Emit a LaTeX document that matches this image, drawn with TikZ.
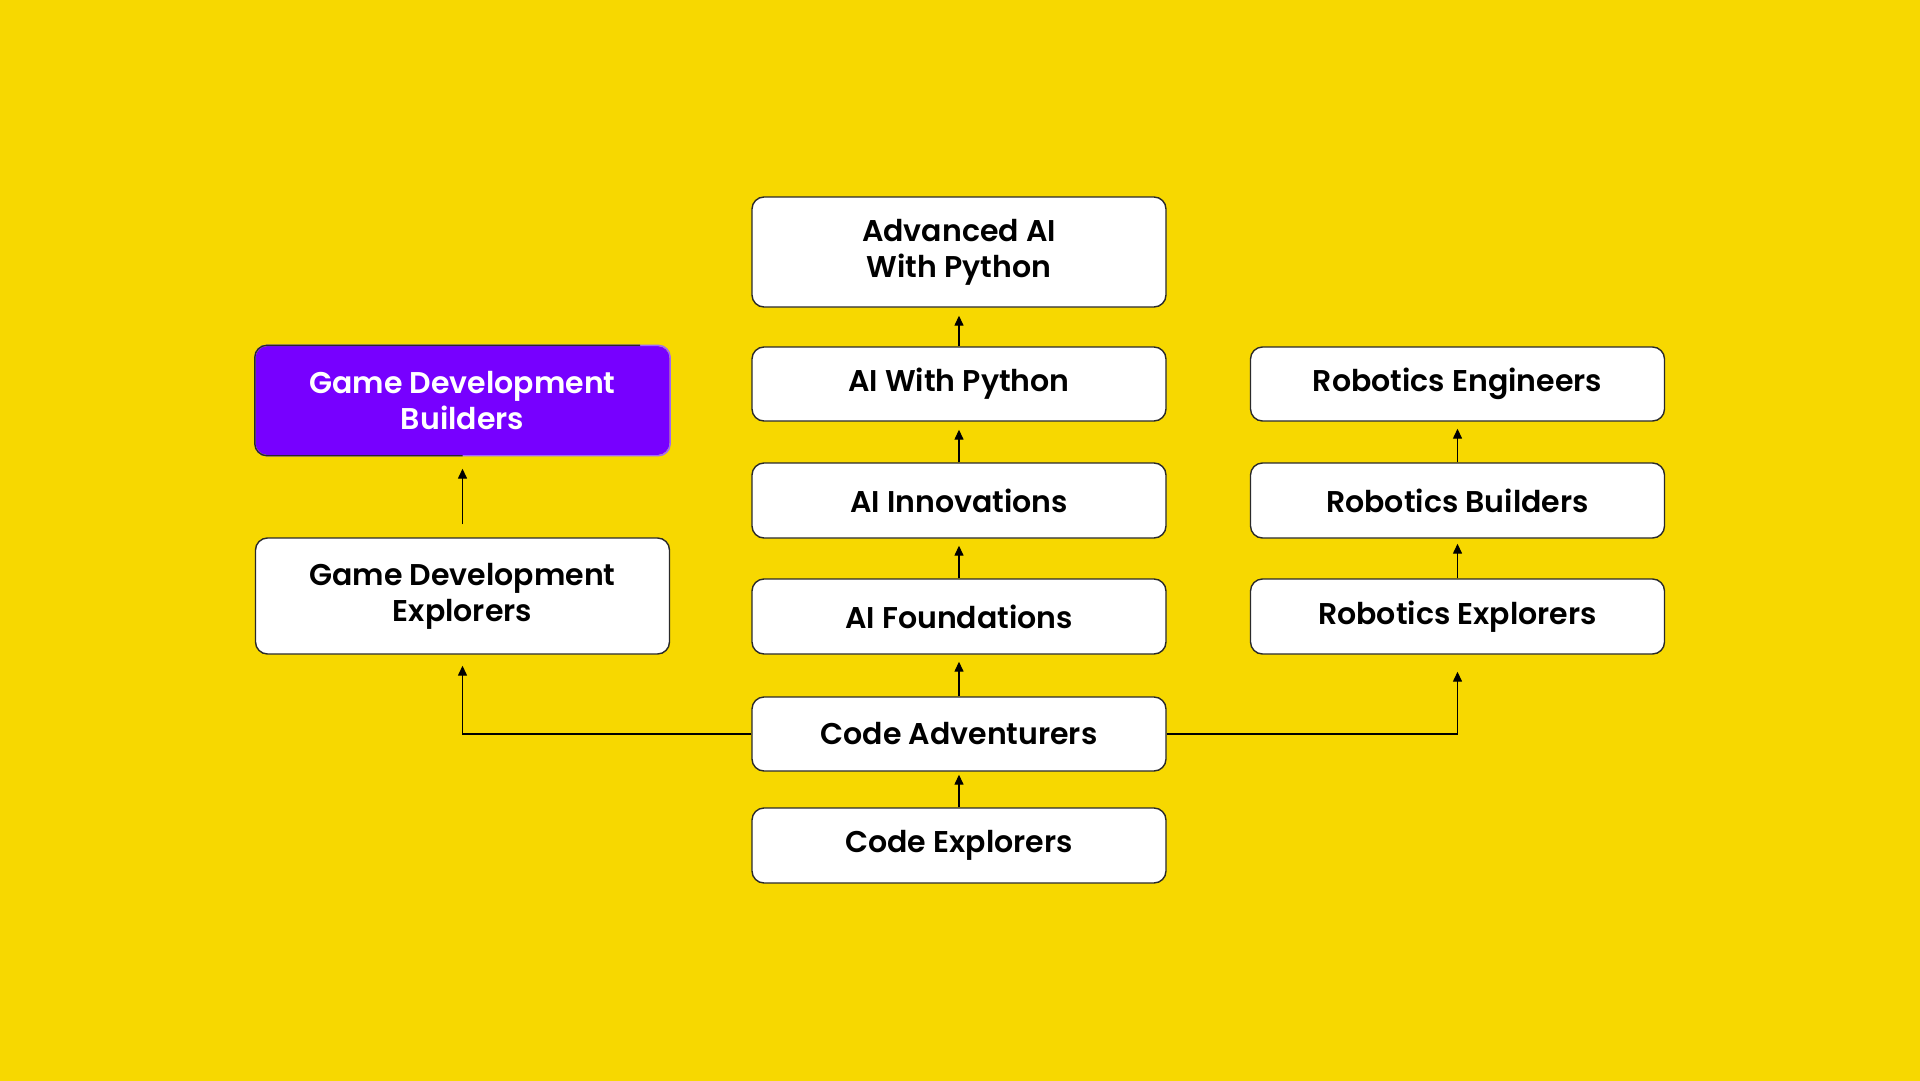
\documentclass[tikz,border=0pt]{standalone}
\usepackage{fontspec}
\setmainfont{Poppins}
\IfFontExistsTF{Poppins SemiBold}
  {\newfontfamily\boxfamily{Poppins SemiBold}\newcommand\boxweight{}}
  {\newfontfamily\boxfamily{Poppins}\newcommand\boxweight{\bfseries}}
\usetikzlibrary{arrows.meta}
\definecolor{bgY}{HTML}{F7D800}
\definecolor{purp}{HTML}{7700FF}
\definecolor{purpedge}{HTML}{A066FF}
\definecolor{edge}{HTML}{2A2A2A}
\begin{document}
\begin{tikzpicture}[x=1pt,y=-1pt,
  box/.style={draw=edge, line width=1.4pt, fill=white, rounded corners=12pt,
    minimum width=414pt, align=center, inner sep=0pt,
    font=\boxfamily\boxweight\fontsize{30}{36}\selectfont},
  conn/.style={line width=1.4pt, draw=black, -{Triangle[width=9pt,length=10pt]}}]
\fill[bgY] (0,0) rectangle (1920,1081);
\useasboundingbox (0,0) rectangle (1920,1081);

% centre column
\node[box, minimum height=110pt] (adv) at (959,252) {Advanced AI\\With Python};
\node[box, minimum height=74pt] (awp) at (959,384) {AI With Python};
\node[box, minimum height=75pt] (ain) at (959,500.5) {AI Innovations};
\node[box, minimum height=75pt] (afo) at (959,616.5) {AI Foundations};
\node[box, minimum height=74pt] (cad) at (959,734) {Code Adventurers};
\node[box, minimum height=75pt] (cex) at (959,845.5) {Code Explorers};

% right column
\node[box, minimum height=74pt] (ren) at (1457.5,384) {Robotics Engineers};
\node[box, minimum height=75pt] (rbu) at (1457.5,500.5) {Robotics Builders};
\node[box, minimum height=75pt] (rex) at (1457.5,616.5) {Robotics Explorers};

% left column
\node[box, minimum height=109pt, fill=purp, draw=none, text=white] (gdb) at (462.5,400.5) {Game Development\\Builders};
\draw[purpedge, line width=1.4pt, rounded corners=12pt] (gdb.north west) rectangle (gdb.south east);
\draw[edge, line width=1.4pt, rounded corners=12pt] (gdb.south) -- (gdb.south west) -- (gdb.north west) -- ([xshift=-30pt]gdb.north east);
\node[box, minimum height=116pt] (gde) at (462.5,596) {Game Development\\Explorers};

% connectors
\draw[conn] (awp.north) -- ([yshift=-8pt]adv.south);
\draw[conn] (ain.north) -- ([yshift=-8pt]awp.south);
\draw[conn] (afo.north) -- ([yshift=-7pt]ain.south);
\draw[conn] (cad.north) -- ([yshift=-7pt]afo.south);
\draw[conn] (cex.north) -- ([yshift=-3pt]cad.south);
\draw[conn] (rbu.north) -- ([yshift=-7pt]ren.south);
\draw[conn] (rex.north) -- ([yshift=-5pt]rbu.south);
\draw[conn] ([yshift=13pt]gde.north) -- ([yshift=-13pt]gdb.south);
\draw[conn] (cad.west) -| ([yshift=-11pt]gde.south);
\draw[conn] (cad.east) -| ([yshift=-17pt]rex.south);
\end{tikzpicture}
\end{document}
